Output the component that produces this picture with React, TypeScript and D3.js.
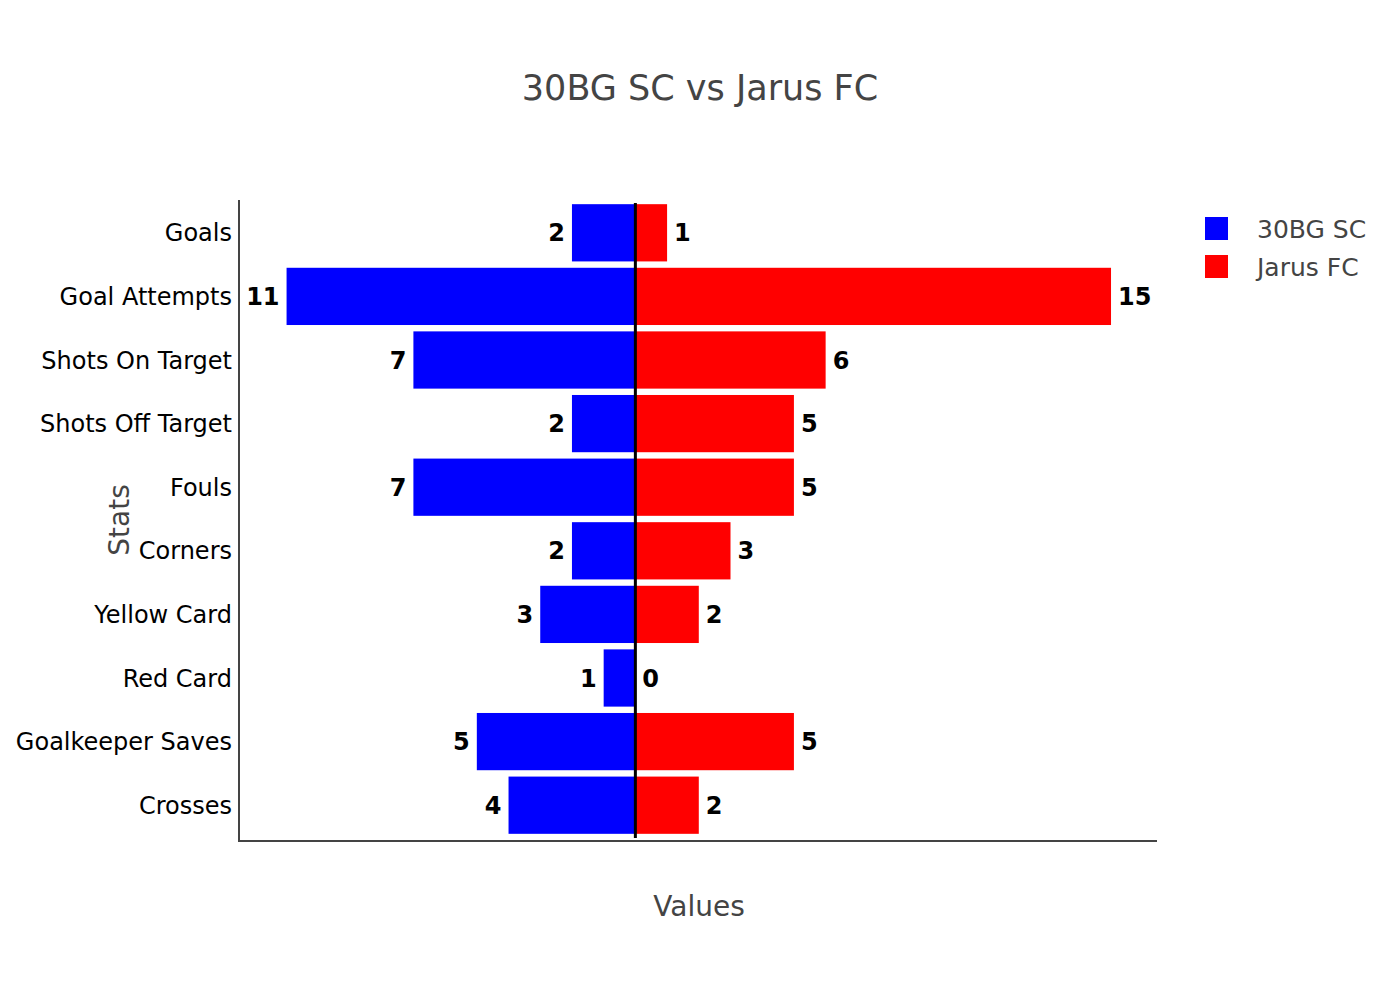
import React from 'react';
import * as d3 from 'd3';

const stats = ['Goals', 'Goal Attempts', 'Shots On Target', 'Shots Off Target', 'Fouls', 'Corners', 'Yellow Card', 'Red Card', 'Goalkeeper Saves', 'Crosses'];
const homeValues = [2, 11, 7, 2, 7, 2, 3, 1, 5, 4];
const awayValues = [1, 15, 6, 5, 5, 3, 2, 0, 5, 2];
const teams = ['30BG SC', 'Jarus FC'];
const teamColors = ['#0000ff', '#ff0000'];

const FONT = '"DejaVu Sans", Verdana, sans-serif';

const App = () => {
  const width = 1400;
  const height = 1000;
  const plot = { left: 239, right: 1157, top: 200, bottom: 841 };

  // x scale centred at zero, home team to the left
  const x = d3.scaleLinear().domain([-12.5, 16.45]).range([plot.left, plot.right]);

  const y = d3.scaleBand<string>()
    .domain(stats)
    .range([201, 837])
    .paddingInner(0.1)
    .paddingOuter(0.05);

  const x0 = x(0);
  const mid = (s: string) => (y(s) as number) + y.bandwidth() / 2;

  return (
    <svg width={width} height={height} style={{ display: 'block', margin: '-8px' }} fontFamily={FONT}>
      <rect width={width} height={height} fill="#fff" />

      {/* title */}
      <text x={700} y={100} textAnchor="middle" fontSize={35} fill="#444">30BG SC vs Jarus FC</text>

      {/* bars, home team */}
      {stats.map((s, i) => (
        <rect key={'h' + s} x={x(-homeValues[i])} y={y(s)} width={x0 - x(-homeValues[i])}
          height={y.bandwidth()} fill={teamColors[0]} />
      ))}
      {/* bars, away team */}
      {stats.map((s, i) => (
        <rect key={'a' + s} x={x0} y={y(s)} width={x(awayValues[i]) - x0}
          height={y.bandwidth()} fill={teamColors[1]} />
      ))}

      {/* value labels */}
      {stats.map((s, i) => (
        <text key={'hl' + s} x={x(-homeValues[i]) - 7} y={mid(s)}
          dy="0.36em" textAnchor="end" fontSize={24} fontWeight="bold" fill="#000">{homeValues[i]}</text>
      ))}
      {stats.map((s, i) => (
        <text key={'al' + s} x={x(awayValues[i]) + 7} y={mid(s)}
          dy="0.36em" textAnchor="start" fontSize={24} fontWeight="bold" fill="#000">{awayValues[i]}</text>
      ))}

      {/* centre line */}
      <line x1={x0} x2={x0} y1={203} y2={838} stroke="#000" strokeWidth={3} />

      {/* axes */}
      <line x1={plot.left} x2={plot.left} y1={plot.top} y2={plot.bottom + 1} stroke="#444" strokeWidth={2} />
      <line x1={plot.left} x2={plot.right} y1={plot.bottom} y2={plot.bottom} stroke="#444" strokeWidth={2} />

      {/* category tick labels */}
      {stats.map(s => (
        <text key={'t' + s} x={232} y={mid(s)} dy="0.36em"
          textAnchor="end" fontSize={24} fill="#000">{s}</text>
      ))}

      {/* axis titles */}
      <text x={699} y={916} textAnchor="middle" fontSize={28} fill="#444">Values</text>
      <text transform="translate(129,520) rotate(-90)" textAnchor="middle" fontSize={28} fill="#444">Stats</text>

      {/* legend */}
      {teams.map((t, i) => (
        <g key={t} transform={`translate(1205,${217 + i * 38})`}>
          <rect width={23} height={23} fill={teamColors[i]} />
          <text x={52} y={11.5} dy="0.36em" fontSize={25} fill="#444">{t}</text>
        </g>
      ))}
    </svg>
  );
};

export default App;
